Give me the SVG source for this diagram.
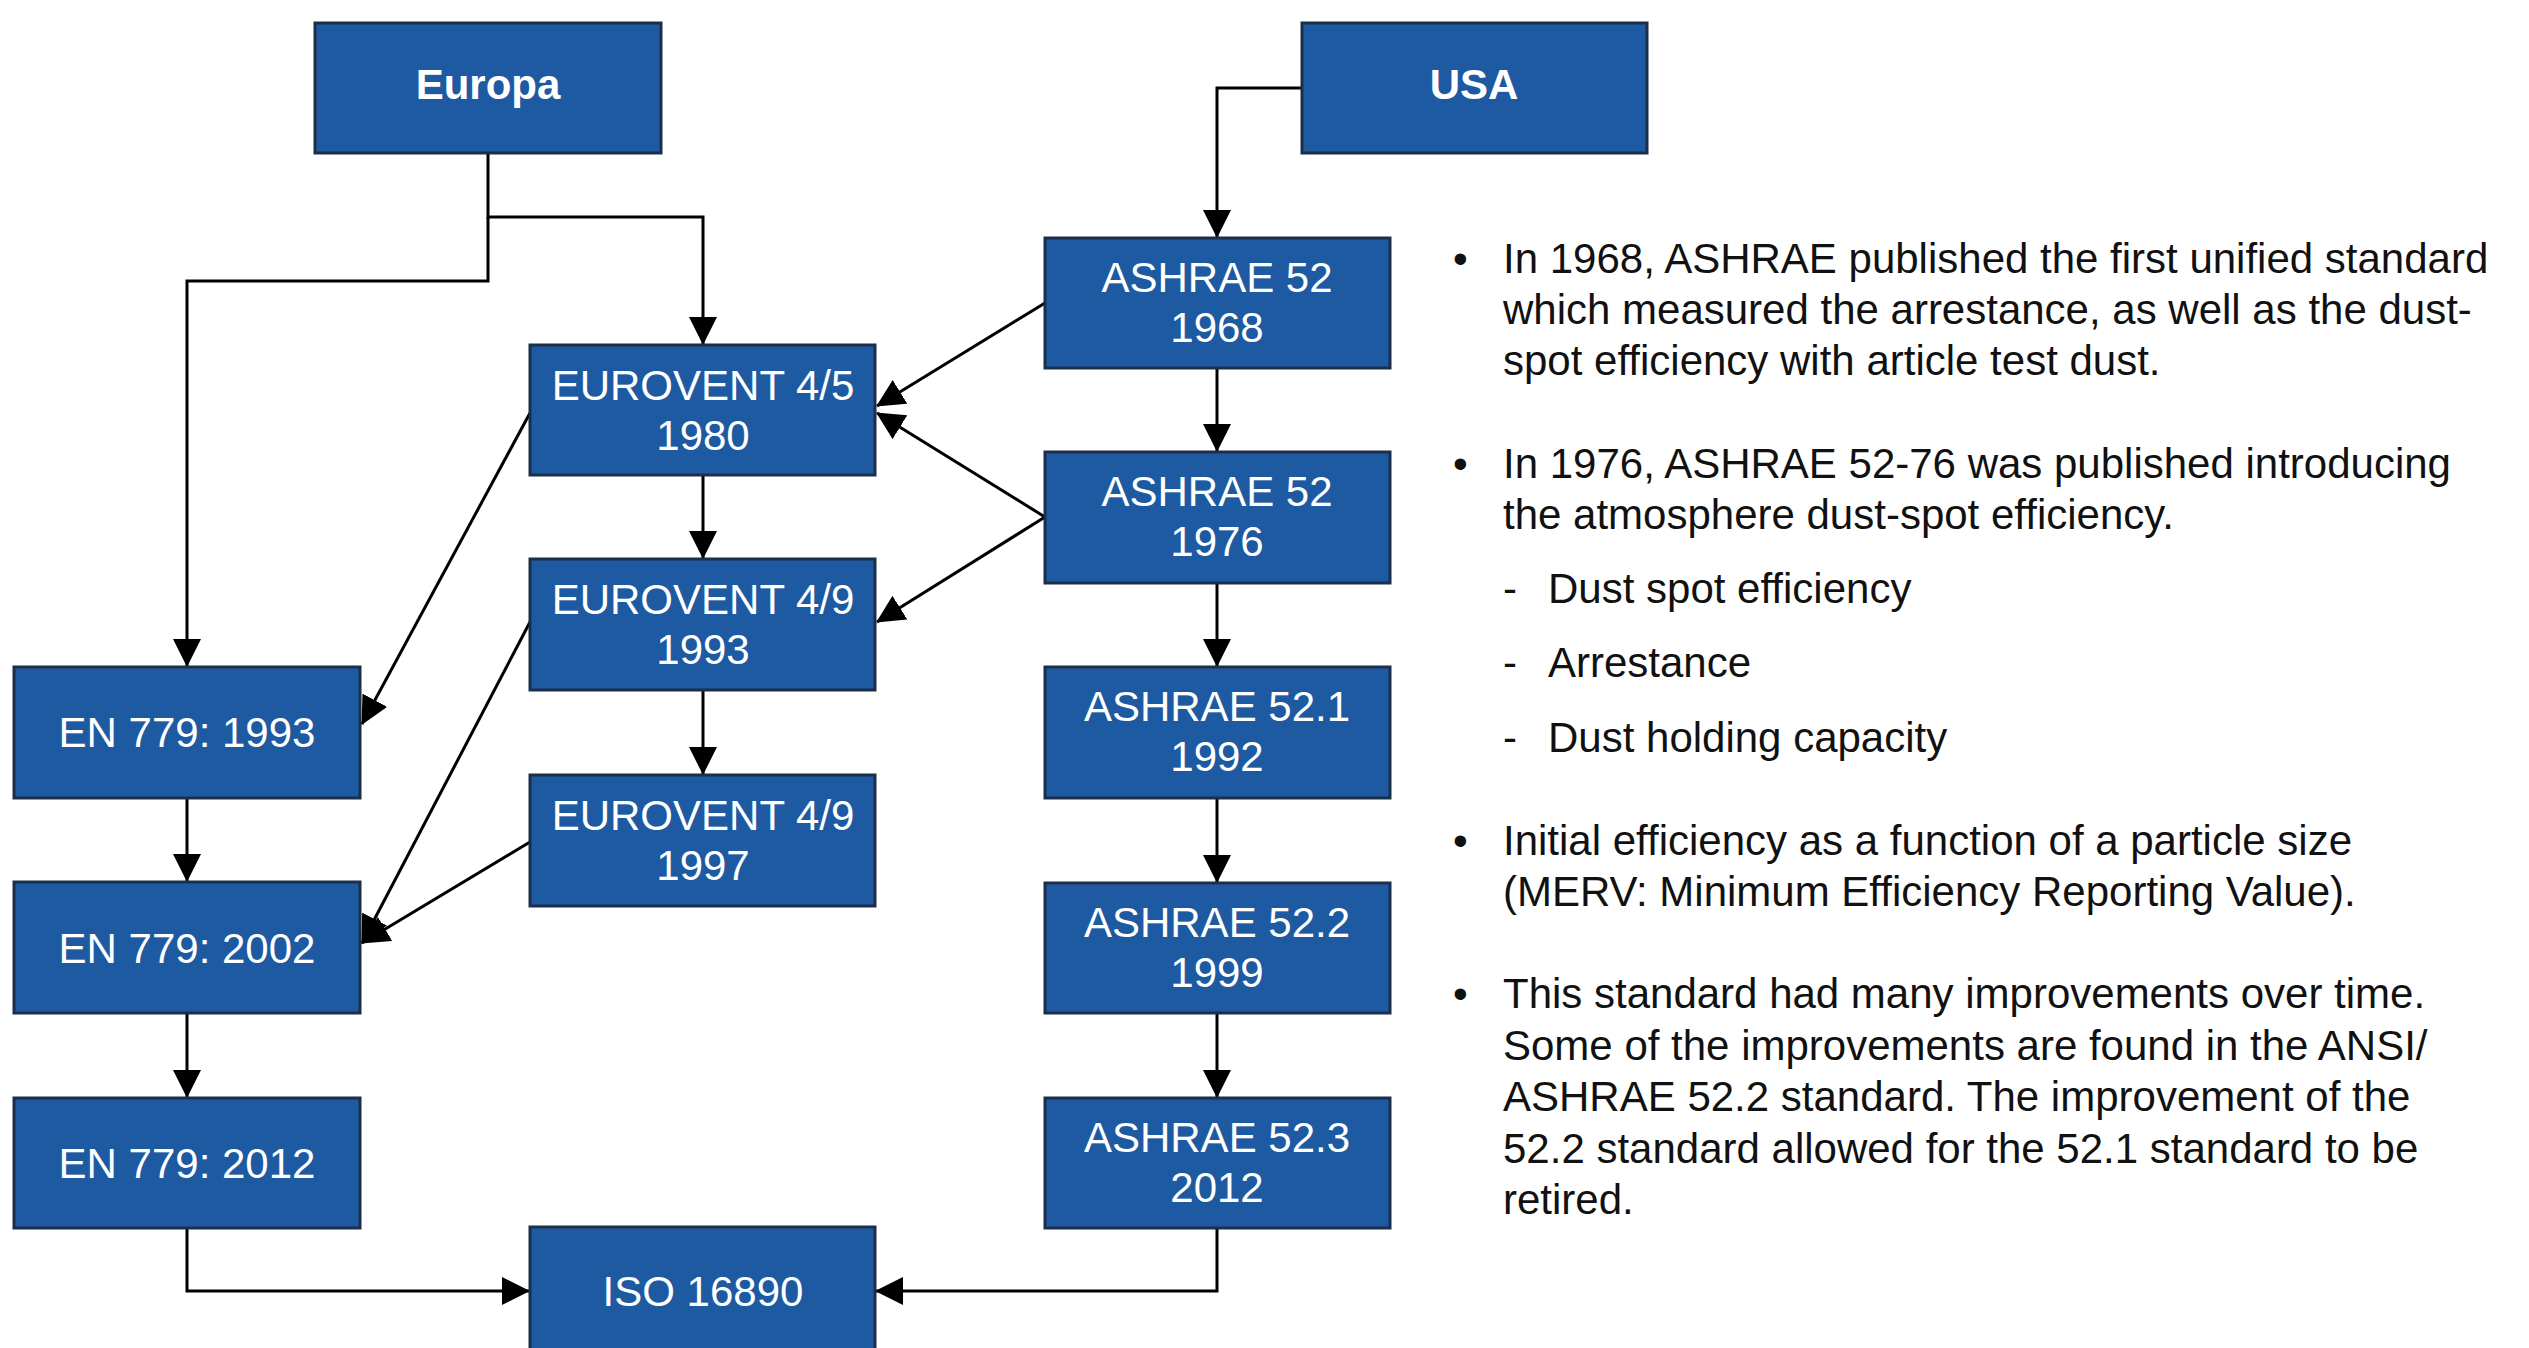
<svg xmlns="http://www.w3.org/2000/svg" width="2529" height="1348" viewBox="0 0 2529 1348">
<style>
.box{fill:#1E5AA2;stroke:#1B2E4A;stroke-width:3}
.bt{font-family:"Liberation Sans",Arial,sans-serif;font-size:42px;fill:#FFFFFF;text-anchor:middle}
.bb{font-weight:bold}
.con{fill:none;stroke:#000;stroke-width:3}
.tx{font-family:"Liberation Sans",Arial,sans-serif;font-size:42px;fill:#111}
</style>
<defs>
<marker id="ah" markerUnits="userSpaceOnUse" markerWidth="28" markerHeight="28" viewBox="0 0 28 28" refX="27" refY="14" orient="auto">
<path d="M0,0 L28,14 L0,28 z" fill="#000"/>
</marker>
</defs>
<rect width="2529" height="1348" fill="#FFFFFF"/>

<g id="connectors">
<polyline class="con" points="488,153 488,217 703,217 703,344" marker-end="url(#ah)"/>
<polyline class="con" points="488,217 488,281 187,281 187,666" marker-end="url(#ah)"/>
<polyline class="con" points="1302,88 1217,88 1217,237" marker-end="url(#ah)"/>
<line class="con" x1="1217" y1="368" x2="1217" y2="451" marker-end="url(#ah)"/>
<line class="con" x1="1217" y1="583" x2="1217" y2="666" marker-end="url(#ah)"/>
<line class="con" x1="1217" y1="798" x2="1217" y2="882" marker-end="url(#ah)"/>
<line class="con" x1="1217" y1="1013" x2="1217" y2="1097" marker-end="url(#ah)"/>
<line class="con" x1="703" y1="475" x2="703" y2="558" marker-end="url(#ah)"/>
<line class="con" x1="703" y1="690" x2="703" y2="774" marker-end="url(#ah)"/>
<line class="con" x1="187" y1="798" x2="187" y2="881" marker-end="url(#ah)"/>
<line class="con" x1="187" y1="1013" x2="187" y2="1097" marker-end="url(#ah)"/>
<line class="con" x1="1045" y1="303" x2="877" y2="406" marker-end="url(#ah)"/>
<line class="con" x1="1045" y1="517" x2="877" y2="413" marker-end="url(#ah)"/>
<line class="con" x1="1045" y1="517" x2="877" y2="622" marker-end="url(#ah)"/>
<line class="con" x1="530" y1="413" x2="362" y2="724" marker-end="url(#ah)"/>
<line class="con" x1="530" y1="622" x2="362" y2="943" marker-end="url(#ah)"/>
<line class="con" x1="530" y1="842" x2="362" y2="943" marker-end="url(#ah)"/>
<polyline class="con" points="187,1228 187,1291 529,1291" marker-end="url(#ah)"/>
<polyline class="con" points="1217,1228 1217,1291 876,1291" marker-end="url(#ah)"/>
</g>

<g id="europa"><rect class="box" x="315" y="23" width="346" height="130"/><text class="bt bb" x="488" y="99">Europa</text></g>
<g id="usa"><rect class="box" x="1302" y="23" width="345" height="130"/><text class="bt bb" x="1474" y="99">USA</text></g>

<g id="ashrae1968"><rect class="box" x="1045" y="238" width="345" height="130"/><text class="bt" x="1217" y="292">ASHRAE 52</text><text class="bt" x="1217" y="342">1968</text></g>
<g id="ashrae1976"><rect class="box" x="1045" y="452" width="345" height="131"/><text class="bt" x="1217" y="506">ASHRAE 52</text><text class="bt" x="1217" y="556">1976</text></g>
<g id="ashrae521"><rect class="box" x="1045" y="667" width="345" height="131"/><text class="bt" x="1217" y="721">ASHRAE 52.1</text><text class="bt" x="1217" y="771">1992</text></g>
<g id="ashrae522"><rect class="box" x="1045" y="883" width="345" height="130"/><text class="bt" x="1217" y="937">ASHRAE 52.2</text><text class="bt" x="1217" y="987">1999</text></g>
<g id="ashrae523"><rect class="box" x="1045" y="1098" width="345" height="130"/><text class="bt" x="1217" y="1152">ASHRAE 52.3</text><text class="bt" x="1217" y="1202">2012</text></g>

<g id="eurovent45"><rect class="box" x="530" y="345" width="345" height="130"/><text class="bt" x="703" y="400">EUROVENT 4/5</text><text class="bt" x="703" y="450">1980</text></g>
<g id="eurovent49-1993"><rect class="box" x="530" y="559" width="345" height="131"/><text class="bt" x="703" y="614">EUROVENT 4/9</text><text class="bt" x="703" y="664">1993</text></g>
<g id="eurovent49-1997"><rect class="box" x="530" y="775" width="345" height="131"/><text class="bt" x="703" y="830">EUROVENT 4/9</text><text class="bt" x="703" y="880">1997</text></g>
<g id="iso16890"><rect class="box" x="530" y="1227" width="345" height="135"/><text class="bt" x="703" y="1306">ISO 16890</text></g>

<g id="en1993"><rect class="box" x="14" y="667" width="346" height="131"/><text class="bt" x="187" y="747">EN 779: 1993</text></g>
<g id="en2002"><rect class="box" x="14" y="882" width="346" height="131"/><text class="bt" x="187" y="963">EN 779: 2002</text></g>
<g id="en2012"><rect class="box" x="14" y="1098" width="346" height="130"/><text class="bt" x="187" y="1178">EN 779: 2012</text></g>

<g id="notes" class="tx">
<text x="1453" y="273">•</text>
<text x="1503" y="273">In 1968, ASHRAE published the first unified standard</text>
<text x="1503" y="324">which measured the arrestance, as well as the dust-</text>
<text x="1503" y="375">spot efficiency with article test dust.</text>
<text x="1453" y="478">•</text>
<text x="1503" y="478">In 1976, ASHRAE 52-76 was published introducing</text>
<text x="1503" y="529">the atmosphere dust-spot efficiency.</text>
<text x="1503" y="603">-</text>
<text x="1548" y="603">Dust spot efficiency</text>
<text x="1503" y="677">-</text>
<text x="1548" y="677">Arrestance</text>
<text x="1503" y="752">-</text>
<text x="1548" y="752">Dust holding capacity</text>
<text x="1453" y="855">•</text>
<text x="1503" y="855">Initial efficiency as a function of a particle size</text>
<text x="1503" y="906">(MERV: Minimum Efficiency Reporting Value).</text>
<text x="1453" y="1008">•</text>
<text x="1503" y="1008">This standard had many improvements over time.</text>
<text x="1503" y="1060">Some of the improvements are found in the ANSI/</text>
<text x="1503" y="1111">ASHRAE 52.2 standard. The improvement of the</text>
<text x="1503" y="1163">52.2 standard allowed for the 52.1 standard to be</text>
<text x="1503" y="1214">retired.</text>
</g>
</svg>
